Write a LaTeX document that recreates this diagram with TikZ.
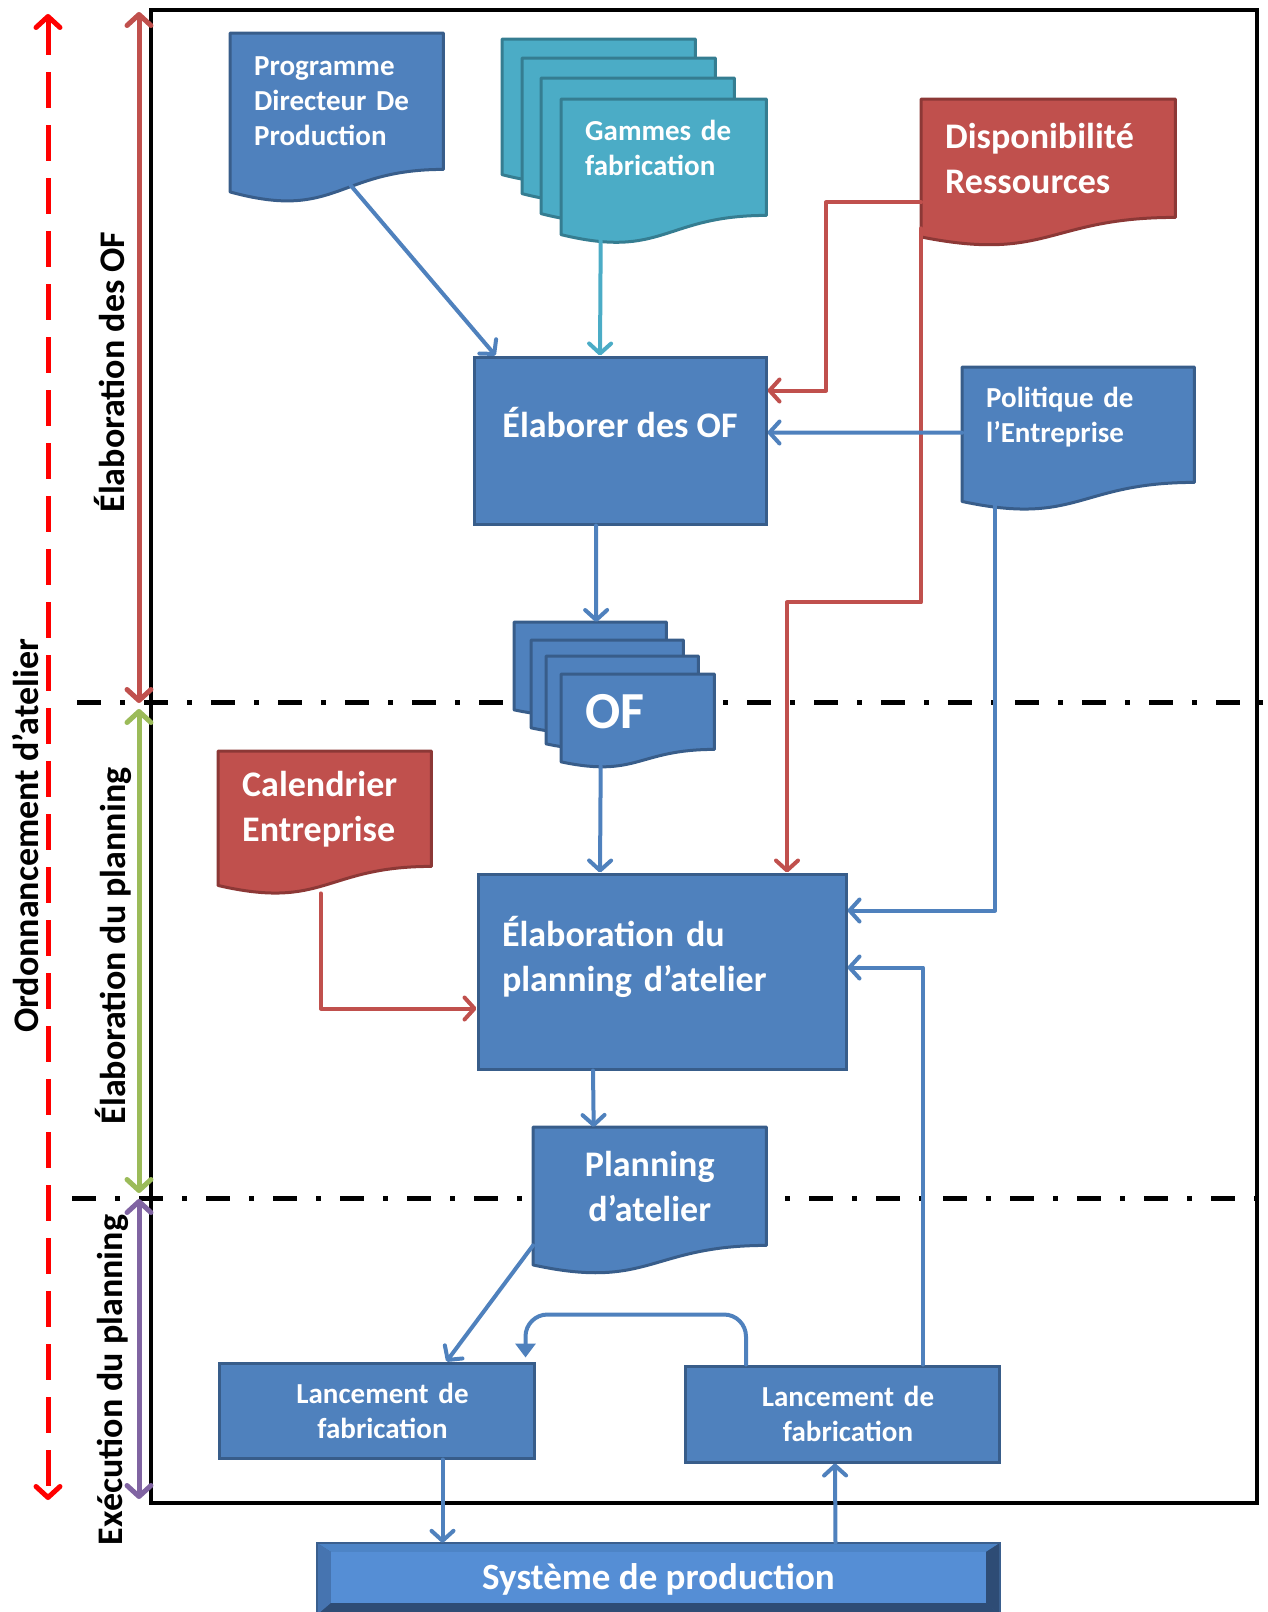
\documentclass[tikz,border=0pt]{standalone}
\usepackage{fontspec}
\setmainfont{Carlito}
\usetikzlibrary{arrows.meta,calc,backgrounds}

\definecolor{boxblue}{HTML}{4F81BD}
\definecolor{edgeblue}{HTML}{385D8A}
\definecolor{boxcyan}{HTML}{4BACC6}
\definecolor{edgecyan}{HTML}{357D91}
\definecolor{boxred}{HTML}{C0504D}
\definecolor{edgered}{HTML}{8C3836}
\definecolor{phasegreen}{HTML}{9BBB59}
\definecolor{phasepurple}{HTML}{8064A2}
\definecolor{sysface}{HTML}{558ED5}
\definecolor{systop}{HTML}{4D84C6}
\definecolor{sysleft}{HTML}{4674B0}
\definecolor{sysdark}{HTML}{2E4C75}
\definecolor{sysedge}{HTML}{3A5F8E}

% document shape: flat top, wavy bottom, drawn under the node
\newcommand{\docshape}[3]{%
  \filldraw[fill=#2, draw=#3, line width=3, line join=round]
    (#1.north west) -- (#1.north east) -- (#1.south east)
    .. controls (#1.south) and ($(#1.south)!-.38!(#1.north)$)
    .. ($(#1.south west)!-.165!(#1.north west)$) -- cycle;}

\tikzset{
  small/.style={font=\fontsize{29}{35}\selectfont\bfseries},
  large/.style={font=\fontsize{36}{45}\selectfont\bfseries},
  doc/.style={rectangle, anchor=north west, text=white, align=left,
    inner xsep=24, inner ysep=0},
  procbox/.style={rectangle, fill=boxblue, draw=edgeblue, line width=3,
    text=white, large},
  conn/.style={draw=boxblue, line width=4, line cap=round, line join=round,
    -{Straight Barb[length=10pt,width=22pt,round]}},
  redconn/.style={conn, draw=boxred},
  phase/.style={line width=5,
    {Straight Barb[length=11pt,width=24pt,round]}-{Straight Barb[length=11pt,width=24pt,round]}},
  phaselabel/.style={rotate=90, font=\fontsize{36}{45}\selectfont\bfseries},
  sepline/.style={line width=5, dash pattern=on 24pt off 19pt on 5pt off 19pt},
}

\begin{document}
\begin{tikzpicture}[x=1pt,y=-1pt]
\useasboundingbox (0,0) rectangle (1267,1612);

% inputs
\node[doc, text width=165, minimum height=136, small] (pdp) at (230,33)
  {Programme\\Directeur De\\Production};
\foreach \n/\x/\y in {gam1/502/39, gam2/522/58, gam3/541/78}
  \node[doc, minimum width=193, minimum height=116] (\n) at (\x,\y) {};
\node[doc, text width=157, minimum height=116, small, text depth=53] (gam)
  at (561,99) {Gammes de\\fabrication};
\node[doc, text width=206, minimum height=118, large] (disp) at (921,99)
  {Disponibilité\\Ressources};
\node[doc, text width=184, minimum height=115, small, text depth=54] (pol)
  at (962,367) {Politique de\\l’Entreprise};

\node[procbox, minimum width=292, minimum height=167, text depth=37] (elab)
  at (620,440.5) {Élaborer des OF};

\foreach \n/\x/\y in {of1/514/622, of2/531/640, of3/546/656}
  \node[doc, minimum width=152, minimum height=75] (\n) at (\x,\y) {};
\node[doc, text width=105, minimum height=75,
  font=\fontsize{52}{60}\selectfont\bfseries] (of) at (561,674) {OF};

\node[doc, text width=165, minimum height=115, large] (cal) at (218,751)
  {Calendrier\\Entreprise};

\node[procbox, minimum width=368, minimum height=195, text width=320,
  align=left, text depth=81] (plan) at (662,971.5)
  {Élaboration du\\planning d’atelier};

\node[doc, text width=185, minimum height=118, large, align=center] (pla)
  at (533,1127) {Planning\\d’atelier};

\node[procbox, small, minimum width=315, minimum height=95, text width=277,
  align=center] (lanA) at (376.5,1410.5) {\hspace*{12pt}Lancement de\\\hspace*{12pt}fabrication};
\node[procbox, small, minimum width=314, minimum height=96, text width=276,
  align=center] (lanB) at (842,1414) {\hspace*{12pt}Lancement de\\\hspace*{12pt}fabrication};

\node[text=white, font=\fontsize{37}{44}\selectfont\bfseries,
  minimum width=683, minimum height=72] (sys) at (658.5,1579)
  {Système de production};

% connectors
\draw[conn] ($(pdp.south)+(14,16)$) -- ($(elab.north west)+(23,0)$);
\draw[conn, draw=boxcyan] ($(gam.south)+(-63,24)$) -- ($(elab.north)+(-20,0)$);
\draw[redconn] ($(disp.south west)+(0,-15)$) -- ++(-95,0) |- ($(elab.east)+(0,-50)$);
\draw[redconn] ($(disp.south west)+(0,11)$) -- ++(0,374) -| ($(plan.north)+(125,0)$);
\draw[conn] ($(pol.west)+(0,8)$) -- ($(elab.east)+(0,-8)$);
\draw[conn] ($(elab.south)+(-24,0)$) -- ($(of1.north)+(6,0)$);
\draw[conn] ($(of.south)+(-37,17)$) -- ($(plan.north)+(-62,0)$);
\draw[conn] ($(pol.south)+(-83,22)$) |- ($(plan.east)+(0,-61)$);
\draw[conn] ($(lanB.north)+(81,0)$) |- ($(plan.east)+(0,-4)$);
\draw[redconn] ($(cal.south)+(-4,27)$) |- ($(plan.west)+(0,37)$);
\draw[conn] ($(plan.south)+(-69,0)$) -- ($(pla.north)+(-56,0)$);
\draw[conn] (pla.south west) -- ($(lanA.north)+(70,0)$);
\draw[conn, rounded corners=22, -{Triangle[length=14pt,width=20pt]}]
  ($(lanB.north)+(-96,0)$) -- ++(0,-50) -| ($(lanA.north east)+(-10,-4)$);
\draw[conn] ($(lanA.south)+(66,0)$) -- ($(sys.north)+(-216,0)$);
\draw[conn] ($(sys.north)+(177,0)$) -- ($(lanB.south)+(-7,0)$);

% phases on the left
\coordinate (ofTop) at (139,12);
\coordinate (ofEnd) at (139,703);
\coordinate (plTop) at (139,709);
\coordinate (plEnd) at (139,1193);
\coordinate (exTop) at (139,1199);
\coordinate (exEnd) at (139,1499);
\coordinate (ordTop) at (48,14);
\coordinate (ordEnd) at (48,1500);
\draw[phase, boxred] (ofTop) -- (ofEnd);
\draw[phase, phasegreen] (plTop) -- (plEnd);
\draw[phase, phasepurple] (exTop) -- (exEnd);
\draw[phase, red, dash pattern=on 36pt off 17pt] (ordTop) -- (ordEnd);

\node[phaselabel] (lblOF) at (110,372) {Élaboration des OF};
\node[phaselabel] (lblOrd) at (26,836) {Ordonnancement d’atelier};
\node[phaselabel] (lblPl) at (113,946) {Élaboration du planning};
\node[phaselabel] (lblEx) at (113,1380) {Exécution du planning};

\begin{pgfonlayer}{background}
  \draw[line width=4] (151,10) rectangle (1257,1503);
  \draw[sepline] (77,702) -- (1263,702);
  \draw[sepline] (72,1198) -- (1260,1198);
  \docshape{pdp}{boxblue}{edgeblue}
  \foreach \n in {gam1,gam2,gam3,gam} {\docshape{\n}{boxcyan}{edgecyan}}
  \docshape{disp}{boxred}{edgered}
  \docshape{pol}{boxblue}{edgeblue}
  \foreach \n in {of1,of2,of3,of} {\docshape{\n}{boxblue}{edgeblue}}
  \docshape{cal}{boxred}{edgered}
  \docshape{pla}{boxblue}{edgeblue}
  % bevelled system box
  \fill[sysedge] (sys.north west) rectangle (sys.south east);
  \fill[systop] (sys.north west) -- (sys.north east) -- ($(sys.north east)+(-14,9)$)
    -- ($(sys.north west)+(14,9)$) -- cycle;
  \fill[sysleft] (sys.north west) -- ($(sys.north west)+(14,9)$)
    -- ($(sys.south west)+(14,-12)$) -- (sys.south west) -- cycle;
  \fill[sysdark] (sys.north east) -- ($(sys.north east)+(-14,9)$)
    -- ($(sys.south east)+(-14,-12)$) -- (sys.south east) -- cycle;
  \fill[sysdark] (sys.south west) -- ($(sys.south west)+(14,-12)$)
    -- ($(sys.south east)+(-14,-12)$) -- (sys.south east) -- cycle;
  \fill[sysface] ($(sys.north west)+(14,9)$) rectangle ($(sys.south east)+(-14,-12)$);
  \draw[sysedge, line width=2] (sys.north west) rectangle (sys.south east);
\end{pgfonlayer}
\end{tikzpicture}
\end{document}
